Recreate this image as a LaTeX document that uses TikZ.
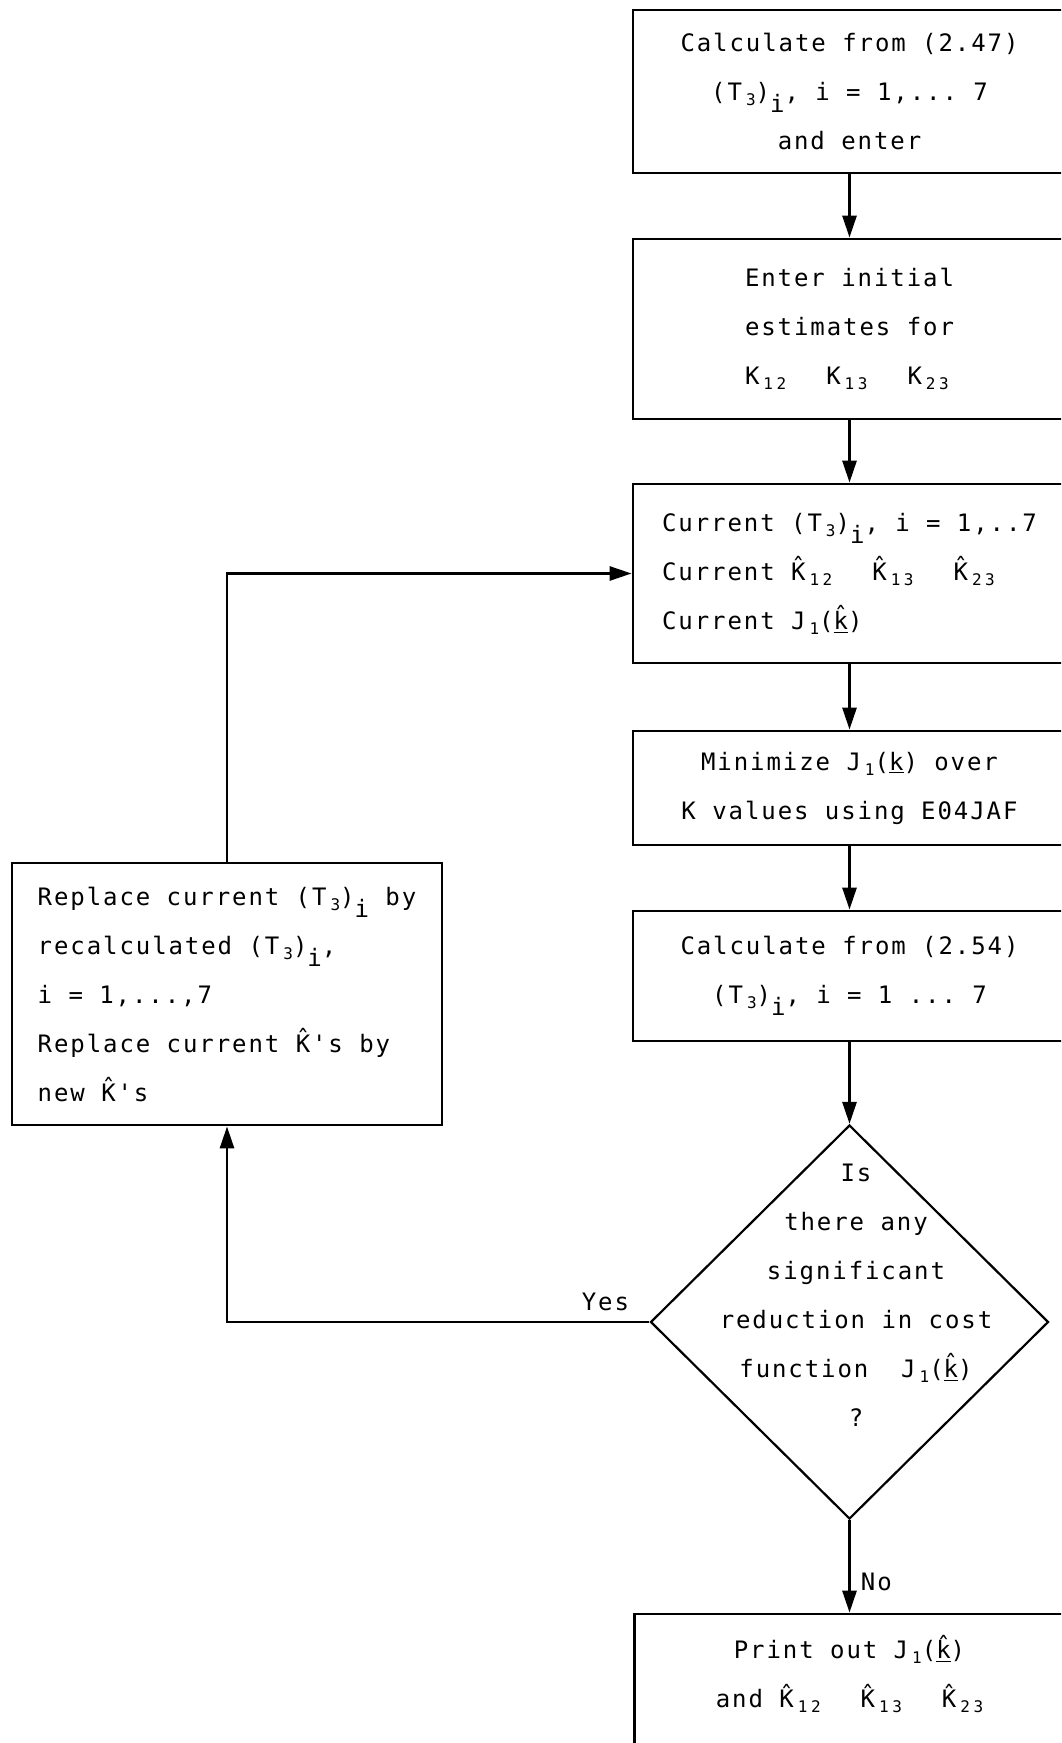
\documentclass[tikz,border=0pt]{standalone}
\usepackage{fontspec}
\setmonofont{DejaVu Sans Mono}[LetterSpace=8]
\newfontfamily\subfont{DejaVu Sans Mono}[LetterSpace=22]
\usetikzlibrary{arrows.meta,shapes.geometric}
% typewriter-style subscripts: small spaced digits, and a half-line-lowered index
\newcommand\lo[1]{\hspace{2pt}\raisebox{-2.5pt}{\subfont\fontsize{8}{8}\selectfont #1}}
\newcommand\li[1]{\raisebox{-6pt}{#1}}
% circumflex set over a letter as a classic TeX accent
\newcommand\circacc[1]{\accent"02C6 #1}
\newcommand\hK{\circacc{K}}
\newcommand\uk{\underline{\circacc{k}}}
\newcommand\gap{\hspace*{20pt}}
\tikzset{
  every node/.style={font=\ttfamily\fontsize{12}{24.5}\selectfont},
  box/.style={draw, line width=1.4pt, rectangle, inner sep=0pt},
  decision/.style={draw, line width=1.1pt, diamond, inner sep=0pt,
    minimum width=199pt, minimum height=197pt},
  arr/.style={line width=1.4pt, -{Triangle[length=11pt,width=7pt]}},
  lbl/.style={inner sep=2pt}
}
\begin{document}
\begin{tikzpicture}[x=0.5pt,y=-0.5pt]
\useasboundingbox (0,0) rectangle (1061,1743);
\clip (0,0) rectangle (1061,1743);

% main column of process boxes (right edges run off the sheet)
\node[box, minimum width=216.5pt, minimum height=81.5pt, align=center] (b1) at (849.5,91.5)
  {Calculate from (2.47)\\(T\lo{3})\li{i}, i = 1,... 7\\and enter};
\node[box, minimum width=216.5pt, minimum height=90pt, align=left] (b2) at (849.5,329)
  {Enter initial\\estimates for\\K\lo{12}\gap K\lo{13}\gap K\lo{23}};
\node[box, minimum width=216.5pt, minimum height=89.5pt, align=left] (b3) at (849.5,573.5)
  {Current (T\lo{3})\li{i}, i = 1,..7\\Current \hK\lo{12}\gap\hK\lo{13}\gap\hK\lo{23}\\Current J\lo{1}(\uk)};
\node[box, minimum width=216.5pt, minimum height=57pt, align=center] (b4) at (849.5,788)
  {Minimize J\lo{1}(\underline{k}) over\\K values using E04JAF};
\node[box, minimum width=216.5pt, minimum height=65pt, align=center] (b5) at (849.5,976)
  {Calculate from (2.54)\\(T\lo{3})\li{i}, i = 1 ... 7};

% decision
\node[decision] (d) at (849.5,1322) {};
\node[align=center] at (856,1295)
  {Is\\there any\\significant\\reduction in cost\\function~~J\lo{1}(\uk)\\?};

% update box on the left
\node[box, minimum width=215pt, minimum height=131pt, align=left] (rep) at (227,994)
  {Replace current (T\lo{3})\li{i} by\\recalculated (T\lo{3})\li{i},\\i = 1,...,7\\Replace current \hK's by\\new \hK's};

% output box (bottom edge below the sheet)
\node[box, minimum width=215pt, minimum height=82pt, align=center] (pr) at (849.5,1696)
  {Print out J\lo{1}(\uk)\\and \hK\lo{12}\gap\hK\lo{13}\gap\hK\lo{23}\\\mbox{}};

% connectors
\draw[arr] (b1) -- (b2);
\draw[arr] (b2) -- (b3);
\draw[arr] (b3) -- (b4);
\draw[arr] (b4) -- (b5);
\draw[arr] (b5) -- (d);
\draw[arr] (d.south) -- node[lbl, right, pos=0.67, xshift=3pt] {No} (pr);
\draw[arr] (d.west) -| node[lbl, above, pos=0.052, yshift=3pt] {Yes} (rep.south);
\draw[arr] (rep.north) |- (b3.west);
\end{tikzpicture}
\end{document}
